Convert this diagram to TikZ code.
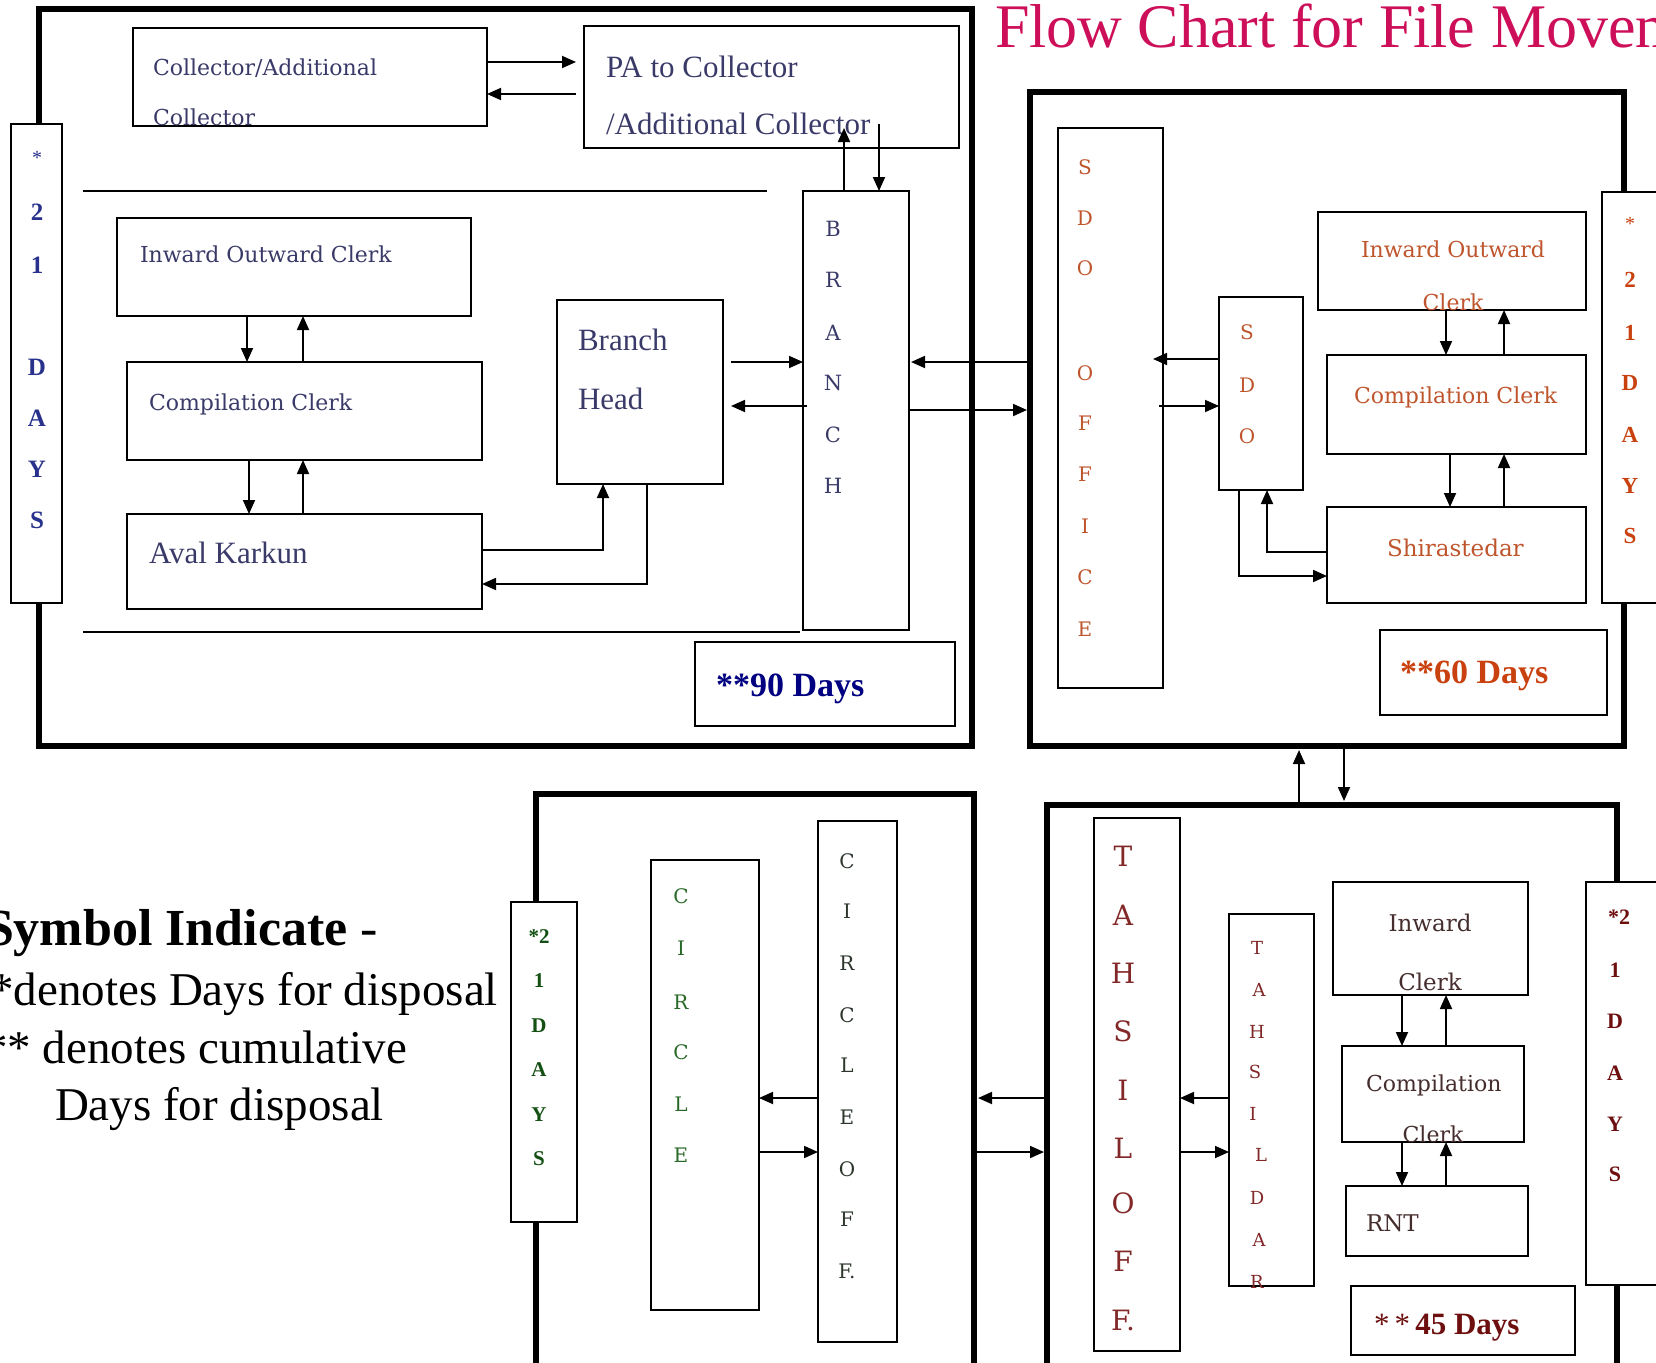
\documentclass[tikz,border=0pt]{standalone}
\usepackage{fontspec}
\setmainfont{Liberation Serif}
\newfontfamily\slab{DejaVu Serif}
\usetikzlibrary{arrows.meta,calc}
\definecolor{navyT}{RGB}{58,58,105}
\definecolor{blueB}{RGB}{40,50,140}
\definecolor{navyD}{RGB}{0,0,128}
\definecolor{orangeT}{RGB}{190,85,45}
\definecolor{orangeB}{RGB}{200,65,15}
\definecolor{greenT}{RGB}{40,105,40}
\definecolor{greenB}{RGB}{20,80,20}
\definecolor{grayG}{RGB}{45,55,45}
\definecolor{redT}{RGB}{130,40,40}
\definecolor{brownT}{RGB}{70,45,45}
\definecolor{redB}{RGB}{110,15,15}
\definecolor{titleC}{RGB}{205,15,90}
\newcommand\setfsz[1]{\fontsize{#1}{#1}\selectfont}
\newcommand\bx[6][]{\node[#1,anchor=north west,minimum width={#5-#3},minimum height={#6-#4}] (#2) at (#3,#4) {};}
\begin{document}
\begin{tikzpicture}[x=1pt,y=-1pt,
  thinbox/.style={draw,line width=1.8pt,rectangle,inner sep=0pt,outer sep=0pt},
  daybox/.style={thinbox,fill=white},
  bigbox/.style={draw,line width=6.5pt,rectangle,inner sep=0pt,outer sep=0pt},
  arr/.style={line width=1.8pt,-{Triangle[length=14pt,width=12pt]}},
  sepline/.style={line width=1.8pt},
  txt/.style={inner sep=0pt,outer sep=0pt},
  slabtxt/.style={txt,font=\slab\setfsz{22}},
  timestxt/.style={txt,font=\setfsz{31}},
  vlet/.style={txt,font=\slab\setfsz{20}},
  dlet/.style={txt,font=\bfseries\setfsz{25}}
]
\useasboundingbox (0,0) rectangle (1656,1362);
\clip (0,0) rectangle (1656,1362);

% title
\node[txt,anchor=base west,font=\setfsz{62},text=titleC] (title) at (995,48) {Flow Chart for File Movement};

% big boxes
\bx[bigbox]{box1}{39}{9}{972}{746}
\bx[bigbox]{box2}{1030}{92}{1624}{746}
\bx[bigbox]{box3}{536}{794}{974}{1420}
\bx[bigbox]{box4}{1047}{805}{1617}{1420}

% ---------- box 1 ----------
\bx[daybox]{days1}{11}{124}{62}{603}
\bx[thinbox]{col}{133}{28}{487}{126}
\bx[thinbox]{pa}{584}{26}{959}{148}
\bx[thinbox]{ioc1}{117}{218}{471}{316}
\bx[thinbox]{cc1}{127}{362}{482}{460}
\bx[thinbox]{aval}{127}{514}{482}{609}
\bx[thinbox]{bh}{557}{300}{723}{484}
\bx[thinbox]{branch}{803}{191}{909}{630}
\bx[thinbox]{d90}{695}{642}{955}{726}
\draw[sepline] (83,191) -- (767,191);
\draw[sepline] (83,632) -- (800,632);

\node[slabtxt,anchor=base west,text=navyT] (t-col1) at (153,76) {Collector/Additional};
\node[slabtxt,anchor=base west,text=navyT] (t-col2) at (153,125) {Collector};
\node[timestxt,anchor=base west,text=navyT] (t-pa1) at (606,78) {PA to Collector};
\node[timestxt,anchor=base west,text=navyT] (t-pa2) at (606,135) {/Additional Collector};
\node[slabtxt,anchor=base west,text=navyT] (t-ioc1) at (140,262) {Inward Outward Clerk};
\node[slabtxt,anchor=base west,text=navyT] (t-cc1) at (149,410) {Compilation Clerk};
\node[timestxt,anchor=base west,text=navyT] (t-aval) at (149,563) {Aval Karkun};
\node[timestxt,anchor=base west,text=navyT] (t-bh1) at (578,350) {Branch};
\node[timestxt,anchor=base west,text=navyT] (t-bh2) at (578,409) {Head};
\node[txt,anchor=base west,font=\bfseries\setfsz{34},text=navyD] (t-d90) at (716,696) {**90 Days};
\node[txt,font=\setfsz{20},text=blueB] (d1-0) at (37,158) {*};
\foreach \l/\yy [count=\i] in {2/212,1/265,D/367,A/418,Y/469,S/520}
  \node[dlet,text=blueB] (d1-\i) at (37,\yy) {\l};
\foreach \l/\yy [count=\i] in {B/229,R/280,A/333,N/383,C/435,H/486}
  \node[vlet,font=\slab\setfsz{21},text=navyT] (br-\i) at (833,\yy) {\l};

% ---------- box 2 ----------
\bx[daybox]{days2}{1602}{192}{1700}{603}
\bx[thinbox]{sdooff}{1058}{128}{1163}{688}
\bx[thinbox]{sdo}{1219}{297}{1303}{490}
\bx[thinbox]{ioc2}{1318}{212}{1586}{310}
\bx[thinbox]{cc2}{1327}{355}{1586}{454}
\bx[thinbox]{shir}{1327}{507}{1586}{603}
\bx[thinbox]{d60}{1380}{630}{1607}{715}

\node[slabtxt,anchor=base,text=orangeT] (t-ioc2a) at (1453,257) {Inward Outward};
\node[slabtxt,anchor=base,text=orangeT] (t-ioc2b) at (1453,310) {Clerk};
\node[slabtxt,anchor=base west,text=orangeT] (t-cc2) at (1354,403) {Compilation Clerk};
\node[slabtxt,font=\slab\setfsz{23},anchor=base west,text=orangeT] (t-shir) at (1387,556) {Shirastedar};
\node[txt,anchor=base west,font=\bfseries\setfsz{34},text=orangeB] (t-d60) at (1400,683) {**60 Days};
\foreach \l/\yy [count=\i] in {S/167,D/218,O/268,O/373,F/423,F/474,I/526,C/577,E/629}
  \node[vlet,text=orangeT] (so-\i) at (1085,\yy) {\l};
\foreach \l/\yy [count=\i] in {S/332,D/385,O/436}
  \node[vlet,text=orangeT] (sd-\i) at (1247,\yy) {\l};
\node[txt,font=\setfsz{20},text=orangeB] (d2-0) at (1630,224) {*};
\foreach \l/\yy [count=\i] in {2/280,1/333,D/383,A/435,Y/486,S/536}
  \node[dlet,font=\bfseries\setfsz{23},text=orangeB] (d2-\i) at (1630,\yy) {\l};

% ---------- box 3 ----------
\bx[daybox]{days3}{511}{902}{577}{1222}
\bx[thinbox]{circ}{651}{860}{759}{1310}
\bx[thinbox]{circoff}{818}{821}{897}{1342}
\foreach \l/\yy [count=\i] in {*2/937,1/981,D/1026,A/1070,Y/1115,S/1159}
  \node[dlet,font=\bfseries\setfsz{21},text=greenB] (d3-\i) at (539,\yy) {\l};
\foreach \l/\yy [count=\i] in {C/896,I/948,R/1002,C/1052,L/1104,E/1155}
  \node[vlet,font=\slab\setfsz{20},text=greenT] (ci-\i) at (681,\yy) {\l};
\foreach \l/\yy [count=\i] in {C/861,I/911,R/963,C/1015,L/1065,E/1117,O/1169,F/1219,F./1271}
  \node[vlet,font=\slab\setfsz{20},text=grayG] (co-\i) at (847,\yy) {\l};

% ---------- box 4 ----------
\bx[daybox]{days4}{1586}{882}{1700}{1285}
\bx[thinbox]{tahoff}{1094}{818}{1180}{1351}
\bx[thinbox]{tahsildar}{1229}{914}{1314}{1286}
\bx[thinbox]{inc}{1333}{882}{1528}{995}
\bx[thinbox]{cc4}{1342}{1046}{1524}{1142}
\bx[thinbox]{rnt}{1346}{1186}{1528}{1256}
\bx[thinbox]{d45}{1351}{1286}{1575}{1355}

\node[slabtxt,font=\slab\setfsz{23},anchor=base,text=brownT] (t-in1) at (1430,931) {Inward};
\node[slabtxt,font=\slab\setfsz{23},anchor=base,text=brownT] (t-in2) at (1430,990) {Clerk};
\node[slabtxt,anchor=base west,text=brownT] (t-cc4a) at (1366,1091) {Compilation};
\node[slabtxt,anchor=base,text=brownT] (t-cc4b) at (1433,1142) {Clerk};
\node[slabtxt,font=\slab\setfsz{23},anchor=base west,text=brownT] (t-rnt) at (1366,1231) {RNT};
\node[txt,anchor=base west,font=\setfsz{31},text=redB] (t-d45) at (1374,1334) {*\,*\,\textbf{45 Days}};
\foreach \l/\yy [count=\i] in {T/856,A/915,H/973,S/1031,I/1090,L/1148,O/1203,F/1261,F./1320}
  \node[vlet,font=\slab\setfsz{28},text=redT] (to-\i) at (1123,\yy) {\l};
\foreach \l/\xx/\yy [count=\i] in {T/1257/948,A/1259/990,H/1257/1032,S/1255/1072,I/1253/1114,L/1261/1155,D/1257/1198,A/1259/1240,R/1257/1282}
  \node[vlet,font=\slab\setfsz{18},text=redT] (tl-\i) at (\xx,\yy) {\l};
\node[dlet,font=\bfseries\setfsz{22},text=redB] (d4-0) at (1619,917) {*2};
\foreach \l/\yy [count=\i] in {1/970,D/1021,A/1073,Y/1124,S/1174}
  \node[dlet,font=\bfseries\setfsz{22},text=redB] (d4-\i) at (1615,\yy) {\l};

% ---------- legend ----------
\node[txt,anchor=base east,font=\setfsz{52}] (leg1) at (378,945) {\textbf{Symbol Indicate} -};
\node[txt,anchor=base east,font=\setfsz{47}] (leg2) at (498,1005) {*denotes Days for disposal};
\node[txt,anchor=base east,font=\setfsz{47}] (leg3) at (407,1063) {** denotes cumulative};
\node[txt,anchor=base west,font=\setfsz{47}] (leg4) at (55,1120) {Days for disposal};

% ---------- connectors box 1 ----------
\draw[arr] (col.east |- 0,62) -- ($(pa.west |- 0,62)+(-8,0)$);
\draw[arr] ($(pa.west |- 0,94)+(-8,0)$) -- (col.east |- 0,94);
\draw[arr] (branch.north -| 844,0) -- ($(pa.south -| 844,0)+(0,-20)$);
\draw[arr] ($(pa.south -| 879,0)+(0,-24)$) -- (branch.north -| 879,0);
\draw[arr] (ioc1.south -| 247,0) -- (cc1.north -| 247,0);
\draw[arr] (cc1.north -| 303,0) -- (ioc1.south -| 303,0);
\draw[arr] (cc1.south -| 249,0) -- (aval.north -| 249,0);
\draw[arr] (aval.north -| 303,0) -- (cc1.south -| 303,0);
\draw[arr] (aval.east |- 0,550) -| (bh.south -| 603,0);
\draw[arr] (bh.south -| 647,0) |- (aval.east |- 0,584);
\draw[arr] ($(bh.east |- 0,362)+(8,0)$) -- (branch.west |- 0,362);
\draw[arr] ($(branch.west |- 0,406)+(4,0)$) -- ($(bh.east |- 0,406)+(8,0)$);
\draw[arr] ($(box2.west |- 0,362)+(-3,0)$) -- ($(branch.east |- 0,362)+(2,0)$);
\draw[arr] (branch.east |- 0,410) -- ($(box2.west |- 0,410)+(-3,0)$);

% ---------- connectors box 2 ----------
\draw[arr] (sdo.west |- 0,359) -- ($(sdooff.east |- 0,359)+(-10,0)$);
\draw[arr] ($(sdooff.east |- 0,406)+(-4,0)$) -- (sdo.west |- 0,406);
\draw[arr] (ioc2.south -| 1446,0) -- (cc2.north -| 1446,0);
\draw[arr] (cc2.north -| 1504,0) -- (ioc2.south -| 1504,0);
\draw[arr] (cc2.south -| 1450,0) -- (shir.north -| 1450,0);
\draw[arr] (shir.north -| 1504,0) -- (cc2.south -| 1504,0);
\draw[arr] (shir.west |- 0,552) -| (sdo.south -| 1267,0);
\draw[arr] (sdo.south -| 1239,0) |- (shir.west |- 0,576);
\draw[arr] ($(box4.north -| 1299,0)+(0,-3)$) -- ($(box2.south -| 1299,0)+(0,4)$);
\draw[arr] ($(box2.south -| 1344,0)+(0,3)$) -- ($(box4.north -| 1344,0)+(0,-4)$);

% ---------- connectors box 3 / 4 ----------
\draw[arr] ($(box4.west |- 0,1098)+(-3,0)$) -- ($(box3.east |- 0,1098)+(4,0)$);
\draw[arr] ($(box3.east |- 0,1152)+(3,0)$) -- ($(box4.west |- 0,1152)+(-3,0)$);
\draw[arr] (circoff.west |- 0,1098) -- (circ.east |- 0,1098);
\draw[arr] (circ.east |- 0,1152) -- (circoff.west |- 0,1152);
\draw[arr] (tahsildar.west |- 0,1098) -- (tahoff.east |- 0,1098);
\draw[arr] (tahoff.east |- 0,1152) -- (tahsildar.west |- 0,1152);
\draw[arr] (inc.south -| 1402,0) -- (cc4.north -| 1402,0);
\draw[arr] (cc4.north -| 1446,0) -- (inc.south -| 1446,0);
\draw[arr] (cc4.south -| 1402,0) -- (rnt.north -| 1402,0);
\draw[arr] (rnt.north -| 1446,0) -- (cc4.south -| 1446,0);
\end{tikzpicture}
\end{document}
